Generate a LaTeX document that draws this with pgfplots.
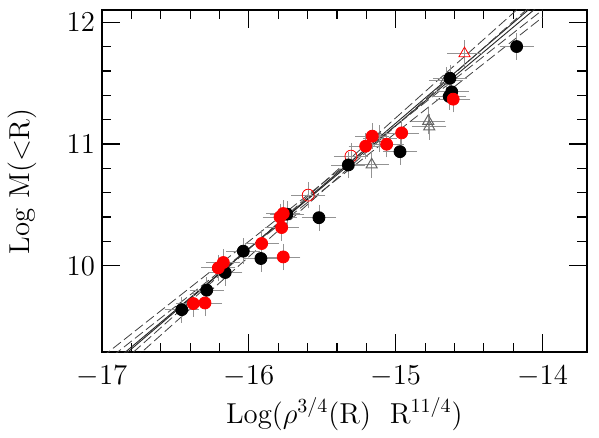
\documentclass[border=0pt]{standalone}
\usepackage{pgfplots}
\pgfplotsset{compat=1.18}
\begin{document}
\begin{tikzpicture}
\begin{axis}[
 scale only axis, width=242.35pt, height=171.15pt,
 xmin=-17, xmax=-13.7, ymin=9.29, ymax=12.1,
 xtick={-17,-16,-15,-14}, ytick={10,11,12},
 minor x tick num=4, minor y tick num=4,
 tick pos=both, tick align=inside,
 major tick length=9pt, minor tick length=4.75pt,
 every tick/.style={black, line width=0.6pt},
 axis line style={line width=1pt},
 tick label style={font=\fontsize{14.4}{17}\selectfont},
 label style={font=\fontsize{14.4}{17}\selectfont},
 xlabel={Log($\rho^{3/4}$(R)~~R$^{11/4}$)},
 ylabel={Log M($<$R)},
 xlabel style={at={(axis description cs:0.5,-0.18)}, anchor=center},
 ylabel style={at={(axis description cs:-0.165,0.5)}, anchor=center},
 xticklabel style={yshift=-3.5pt},
 clip=true,
 ebar/.style={error bars/.cd, x dir=both, x fixed=0.085, y dir=both, y fixed=0.07,
   error bar style={gray!85, line width=0.4pt},
   error mark options={gray!85, mark size=2.3pt, line width=0.4pt}},
]
% fit lines
\addplot[black!85, line width=0.45pt] coordinates {(-17,9.131) (-14,12.161)};
\addplot[black!85, line width=0.45pt] coordinates {(-17,9.111) (-14,12.201)};
\addplot[black!75, line width=0.4pt, dash pattern=on 5pt off 2pt] coordinates {(-17,9.061) (-14,12.291)};
\addplot[black!75, line width=0.4pt, dash pattern=on 5pt off 2pt] coordinates {(-17,9.191) (-14,12.041)};
\addplot[black!75, line width=0.4pt, dash pattern=on 5pt off 2pt] coordinates {(-17,9.251) (-14,12.101)};
\addplot[black!75, line width=0.4pt, dash pattern=on 5pt off 2pt] coordinates {(-17,9.001) (-14,12.221)};
% gray open triangles
\addplot[only marks, mark=triangle, mark size=3.2pt, gray!80!black, mark options={line width=0.5pt}, ebar]
 coordinates {(-15.164,10.830) (-15.108,11.045) (-14.779,11.187) (-14.772,11.142) (-14.658,11.524)};
% red open circles
\addplot[only marks, mark=o, mark size=3pt, red, mark options={line width=0.4pt}, ebar]
 coordinates {(-15.596,10.580) (-15.305,10.900)};
% red open triangle
\addplot[only marks, mark=triangle, mark size=3.2pt, red, mark options={line width=0.4pt}, ebar]
 coordinates {(-14.532,11.743)};
% black filled circles
\addplot[only marks, mark=*, mark size=3pt, black, ebar]
 coordinates {(-16.457,9.640) (-16.287,9.800) (-16.161,9.945) (-16.038,10.120) (-15.918,10.060)
 (-15.741,10.424) (-15.523,10.395) (-15.323,10.828) (-14.971,10.937) (-14.631,11.540)
 (-14.619,11.428) (-14.636,11.390) (-14.177,11.800)};
% red filled circles
\addplot[only marks, mark=*, mark size=3pt, red, ebar]
 coordinates {(-16.378,9.690) (-16.299,9.695) (-16.208,9.983) (-16.174,10.027) (-15.913,10.183)
 (-15.766,10.073) (-15.777,10.314) (-15.788,10.401) (-15.766,10.429) (-15.205,10.982)
 (-15.160,11.064) (-15.062,10.998) (-14.960,11.091) (-14.609,11.368)};
\end{axis}
\pgfresetboundingbox
\path ([shift={(-51pt,-42.85pt)}]current axis.south west) rectangle ([shift={(6.15pt,5pt)}]current axis.north east);
\end{tikzpicture}
\end{document}
